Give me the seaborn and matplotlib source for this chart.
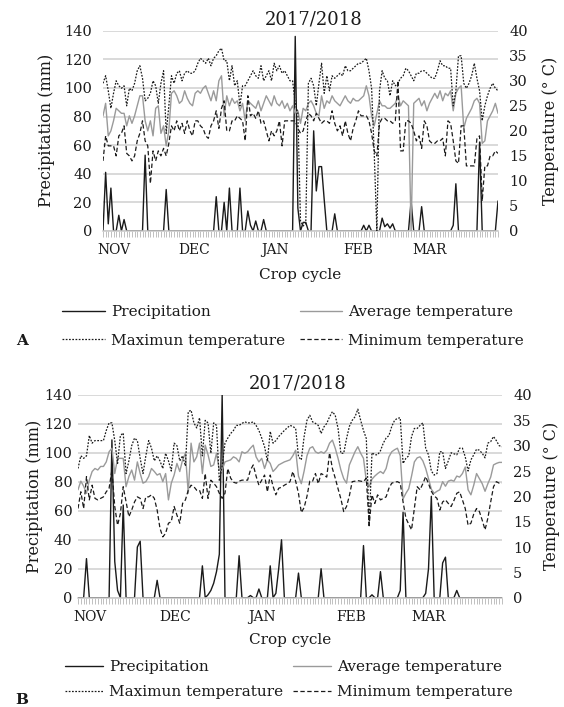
import numpy as np
import pandas as pd
import seaborn as sns
import matplotlib.pyplot as plt

# daily values, 1 Nov 2017 -> 31 Mar 2018 (151 days)
days = list(range(151))

# ---- panel A ----
precip_a = [0, 41, 5, 30, 0, 0, 11, 0, 8, 0,
            0, 0, 0, 0, 0, 0, 53, 0, 0, 0,
            0, 0, 0, 0, 29, 0, 0, 0, 0, 0,
            0, 0, 0, 0, 0, 0, 0, 0, 0, 0,
            0, 0, 0, 24, 0, 0, 20, 0, 30, 0,
            0, 0, 30, 0, 0, 14, 4, 0, 7, 0,
            0, 8, 0, 0, 0, 0, 0, 0, 0, 0,
            0, 0, 0, 136, 16, 0, 6, 6, 0, 0,
            70, 28, 45, 45, 22, 0, 0, 0, 12, 0,
            0, 0, 0, 0, 0, 0, 0, 0, 0, 4,
            0, 4, 0, 0, 0, 0, 9, 3, 5, 2,
            5, 0, 0, 0, 0, 0, 0, 21, 0, 0,
            0, 17, 0, 0, 0, 0, 0, 0, 0, 0,
            0, 0, 0, 4, 33, 0, 0, 0, 0, 0,
            0, 0, 0, 62, 0, 0, 0, 0, 0, 0,
            21]
avg_a = [23, 25.5, 19, 20, 22, 24.5, 24, 23.5, 23.5, 21,
         23, 21.5, 23, 25, 27, 27, 22, 20, 22, 19,
         24.5, 25, 19.5, 21, 17, 20, 27.5, 28, 27, 25.5,
         26, 28, 26.5, 25.5, 25, 27.5, 28, 27.5, 28.5, 29,
         27.5, 26, 28, 26, 30, 31, 23, 27, 25, 26.5,
         25.5, 26, 24, 25.5, 22, 26, 25.5, 25, 24.5, 26,
         24, 25.5, 27, 26, 25, 27, 25.5, 25, 26, 24.5,
         25.5, 24, 25, 23.5, 24, 21.5, 24.5, 24, 25.5, 26,
         25, 23.5, 23, 27, 24.5, 26, 25.5, 27, 26, 25.5,
         25, 26, 27, 26, 25.5, 26.5, 26, 26, 26.5, 27,
         29, 27, 23, 21, 23.5, 26, 25, 25, 24.5, 24.5,
         25, 25.5, 27, 25, 26, 25.5, 25, 0, 25.5, 26,
         26.5, 25, 26, 24, 25.5, 26.5, 27.5, 26.5, 28, 26,
         27.5, 27, 28, 24, 27.5, 28.5, 29, 20.5, 22.5, 23.5,
         24.5, 26, 26.5, 25.5, 17.5, 18, 22, 23, 24, 25.5,
         23.5]
max_a = [29.5, 31, 28, 24.5, 27.5, 30, 29, 28.5, 29, 25,
         28.5, 28, 29.5, 32, 33, 30.5, 26, 26.5, 27.5, 30,
         29, 25.5, 29.5, 32, 19.5, 25, 31, 29.5, 31.5, 32,
         30, 31.5, 32, 31.5, 31.5, 32, 33.5, 34.5, 34, 33.5,
         34.5, 33, 34.5, 35, 36, 36.5, 34, 34, 30, 33,
         29, 30, 25, 29, 29, 30, 31, 32, 31, 30.5,
         33, 30, 31, 32, 30, 33.5, 32, 33, 31.5, 32,
         31, 30, 30, 25.5, 23.5, 2, 1, 1.5, 29.5, 30.5,
         29, 25, 29.5, 33.5, 27.5, 31, 28, 31, 30.5, 31,
         31.5, 31, 33, 32, 32, 32.5, 33, 33.5, 33.5, 34,
         34.5, 32, 28.5, 15.5, 0, 28, 32, 30.5, 30, 27,
         30, 29, 29.5, 30.5, 31, 32.5, 32, 31, 30, 31.5,
         31.5, 32, 32, 31.5, 31, 30.5, 30.5, 32, 34, 33,
         33, 32.5, 32.5, 25, 28, 35, 35, 29.5, 28.5, 29.5,
         31, 33.5, 30.5, 28, 22, 25, 27, 28.5, 29.5, 28.5,
         28]
min_a = [14, 19, 17, 17, 17, 15, 19, 19.5, 21, 15.5,
         15, 14, 15, 18, 19.5, 22, 18, 17, 9.5, 16,
         14, 16, 15, 16.5, 15, 17.5, 21, 20, 22, 20,
         21.5, 19.5, 22, 20, 19, 22, 22, 21, 20.5, 19,
         18.5, 21, 22, 24, 20.5, 24.5, 26, 20, 20, 22,
         22, 23, 22.5, 22, 18, 27, 23, 23.5, 22.5, 24,
         21.5, 22, 20, 18, 20, 19, 20, 22, 17, 22,
         22, 22, 22, 22, 20.5, 19.5, 20, 22, 23.5, 23,
         22, 23.5, 22.5, 21.5, 22, 22, 21.5, 24, 21.5, 20,
         21, 19, 22, 19.5, 18, 20.5, 22, 24, 23, 23,
         23, 22, 19.5, 16, 15, 21.5, 22.5, 22.5, 22, 22,
         21.5, 22, 30, 16, 16, 22, 22, 21.5, 20, 18,
         19, 16.5, 22, 21, 18, 17.5, 17.5, 18, 18, 18.5,
         15, 22, 21.5, 18, 14, 13.5, 21, 21, 13, 13,
         13, 13, 18.5, 19, 6, 13, 13, 15, 15, 16,
         15.5]

# ---- panel B ----
precip_b = [0, 0, 0, 27, 0, 0, 0, 0, 0, 0,
            0, 0, 109, 25, 5, 0, 64, 0, 0, 0,
            0, 35, 39, 0, 0, 0, 0, 0, 12, 0,
            0, 0, 0, 0, 0, 0, 0, 0, 0, 0,
            0, 0, 0, 0, 22, 0, 2, 5, 10, 18,
            30, 140, 0, 0, 0, 0, 0, 29, 0, 0,
            0, 1.5, 0, 0, 6, 0, 0, 0, 22, 0,
            3, 20, 40, 0, 0, 0, 0, 0, 17, 0,
            0, 0, 0, 0, 0, 0, 20, 0, 0, 0,
            0, 0, 0, 0, 0, 0, 0, 0, 0, 0,
            0, 36, 0, 0, 2, 0, 0, 18, 0, 0,
            0, 0, 0, 0, 5, 59, 0, 0, 0, 0,
            0, 0, 0, 3, 20, 70, 0, 0, 0, 24,
            28, 0, 0, 0, 5, 0, 0, 0, 0, 0,
            0, 0, 0, 0, 0, 0, 0, 0, 0, 0,
            0]
avg_b = [21.3, 23, 22, 20.6, 23.2, 24.9, 25.5, 25.2, 25.9, 25.9,
         26.8, 28.8, 29.5, 24.5, 27.5, 27.5, 27.5, 21.9, 23.9, 25.2,
         23.2, 26.8, 24.5, 22.6, 22.9, 23.9, 25.5, 24.9, 24.2, 24.5,
         22.9, 24.5, 19.3, 22.6, 24.2, 26.5, 24.9, 27.2, 28.5, 20.6,
         30.5, 26.8, 27.8, 30.5, 24.5, 30.1, 28.2, 25.9, 26.2, 28.5,
         25.2, 25.2, 26.8, 27, 27.2, 27.8, 27.5, 26.8, 28.8, 28.5,
         28.8, 29.5, 30.1, 27.8, 26.8, 27.5, 25.5, 27.2, 26.5, 24.9,
         25.5, 26.2, 26.5, 26.8, 27, 27.2, 28, 29.1, 24, 22.5,
         25, 28, 29.5, 29.8, 28.8, 28.5, 28.8, 28.5, 29.1, 30.5,
         31.1, 29.5, 27.5, 25.2, 23.5, 22.6, 26.2, 27.5, 28.8, 29.8,
         28.5, 27.5, 23, 21.9, 23.4, 24, 24.5, 24.9, 24.5, 25.5,
         27.8, 28.8, 29.2, 29.5, 28, 19.5, 20.6, 21.5, 24, 26.8,
         27.6, 27.8, 27, 25.5, 23.5, 21.4, 20.6, 21, 21.3, 22.9,
         22, 23, 23.2, 23, 24, 23.8, 24.5, 25.8, 21.3, 20.3,
         22.2, 24.5, 23.5, 22.5, 21, 22.5, 23.8, 26.2, 26.5, 26.7,
         26.7]
max_b = [25.5, 28, 27.5, 28, 32, 30.5, 31, 31, 31, 31,
         33, 34.5, 34.5, 31, 26.5, 32, 32.5, 24.5, 27, 30,
         31.5, 31, 27.5, 24.5, 28, 31, 29.5, 27, 28, 27,
         25.5, 28.5, 27, 25, 30.5, 30, 27, 28, 26, 36.7,
         37, 34.5, 33.5, 35.5, 28, 35, 34.5, 28.5, 34.5, 34,
         23, 26, 30.5, 31.5, 32.4, 33, 34, 34, 34.4, 34.7,
         34.5, 34.5, 34.7, 34, 33, 31.5, 29.8, 27, 32.8, 30.5,
         31, 31.8, 32.4, 33, 33.5, 34, 33.8, 33.4, 27.8, 27.2,
         31.8, 35, 36, 34.7, 34.4, 34, 32.4, 33.7, 34.4, 35.7,
         36.7, 36, 33.4, 28.5, 28.5, 31.4, 33.8, 35, 35.7, 37.2,
         35, 33, 31.4, 14.2, 28.6, 28.2, 28.2, 29, 30.5, 31.5,
         32, 33.8, 35, 35.4, 35.5, 26.5, 27.5, 28, 31.8, 33.4,
         33.4, 34, 34.5, 29.5, 28.2, 25, 24.2, 24.5, 28.8, 28.8,
         25.5, 27, 28.6, 28.4, 28.2, 29.5, 29.5, 27.8, 25, 27.2,
         28.2, 29.3, 29.1, 28.5, 27.6, 30.5, 30.8, 31.8, 31, 30,
         29.8]
min_b = [17.6, 20.9, 17.6, 23.9, 19.3, 22.2, 19.6, 19.3, 19.6, 19.9,
         20.9, 21.6, 25.2, 18, 14.3, 16.6, 21.9, 18.9, 16, 17.3,
         18.9, 19.9, 19.6, 17.6, 19.9, 19.9, 20.3, 19.6, 17.3, 13.7,
         12, 12.7, 14.7, 15, 18, 16.3, 14.7, 18.6, 19.3, 21.2,
         22.2, 21.9, 21.2, 21.2, 19.6, 24.5, 19.6, 23.2, 22.6, 21.9,
         20.6, 19.6, 20.6, 25.5, 23.6, 22.8, 22.6, 23, 23.2, 23.2,
         23.2, 25.2, 26.2, 24, 22.2, 23.2, 24.2, 20.9, 24.2, 22,
         20.3, 21.6, 21.8, 22.2, 22.5, 22.9, 24.9, 23, 20.6, 16.8,
         17.8, 20, 23, 23, 24.5, 22.5, 24.5, 24.2, 23.8, 28.6,
         25.5, 23.6, 21.5, 19.5, 17, 18, 20.1, 22.9, 23, 23.1,
         23, 22.9, 23.6, 14.3, 20.3, 18.6, 20.3, 19.3, 19.6, 19.9,
         21.6, 22.6, 22.8, 22.9, 22.6, 18.9, 15.7, 14.5, 13.4, 17.6,
         21.9, 21.3, 22.5, 23.9, 22.5, 21, 20.1, 19.6, 17.3, 18.9,
         19.3, 18.6, 18, 19.2, 20.6, 20.9, 19.3, 17.6, 14.3, 14.7,
         16.5, 17.6, 17, 15.3, 13.4, 15.7, 18.9, 21.9, 22.9, 22.6,
         22.6]

month_labels = ["NOV", "DEC", "JAN", "FEB", "MAR"]
month_pos = [4.2, 34.5, 65.2, 96.8, 124.1]
season = "2017/2018"

sns.set_theme(style="white")
plt.rcParams['font.family'] = ['DejaVu Serif']
plt.rcParams['text.color'] = '#1a1a1a'
plt.rcParams['axes.labelcolor'] = '#1a1a1a'
plt.rcParams['xtick.color'] = '#1a1a1a'
plt.rcParams['ytick.color'] = '#1a1a1a'

fig = plt.figure(figsize=(5.64, 7.07), dpi=100)


def draw_panel(rect, df, tag, tag_xy, ylab_x, ylab2_x, ypad, xlab_y,
               title_xy, legend_xy, handle_len, colspace, rowspace):
    ax = fig.add_axes(rect)
    ax2 = ax.twinx()

    sns.lineplot(data=df, x="day", y="precip", ax=ax, color="#1a1a1a",
                 lw=1.0, legend=False)
    sns.lineplot(data=df, x="day", y="avg", ax=ax2, color="#9a9a9a",
                 lw=1.0, legend=False)
    sns.lineplot(data=df, x="day", y="tmax", ax=ax2, color="#1a1a1a",
                 lw=0.9, linestyle=(0, (1.4, 1.2)), legend=False)
    sns.lineplot(data=df, x="day", y="tmin", ax=ax2, color="#1a1a1a",
                 lw=0.9, linestyle=(0, (3.5, 2)), legend=False)

    h_p = ax.lines[0]
    h_avg, h_max, h_min = ax2.lines[0], ax2.lines[1], ax2.lines[2]

    ax.set_xlim(0, 150)
    ax.set_ylim(0, 140)
    ax2.set_ylim(0, 40)
    ax.set_yticks(range(0, 141, 20))
    ax2.set_yticks(range(0, 41, 5))
    ax.set_xticks(month_pos)
    ax.set_xticklabels(month_labels)
    ax.set_xticks(df["day"], minor=True)
    ax.tick_params(axis='x', which='major', length=0, pad=9, labelsize=10)
    ax.tick_params(axis='x', which='minor', bottom=True, length=4,
                   width=0.6, color='#b5b5b5')
    ax.tick_params(axis='y', length=0, pad=ypad, labelsize=10.5)
    ax2.tick_params(axis='y', length=0, pad=8, labelsize=10.5)

    ax.grid(axis='y', color='#d0d0d0', lw=1.1)
    ax.grid(axis='x', visible=False)
    ax2.grid(False)
    ax.set_axisbelow(True)
    for s in ax.spines.values():
        s.set_visible(False)
    for s in ax2.spines.values():
        s.set_visible(False)
    ax.spines['bottom'].set_visible(True)
    ax.spines['bottom'].set_color('#c8c8c8')
    ax.spines['bottom'].set_linewidth(1.1)

    ax.set_xlabel("Crop cycle", fontsize=11)
    ax.xaxis.set_label_coords(0.5, xlab_y)
    ax.xaxis.label.set_va('center')
    ax.set_ylabel("Precipitation (mm)", fontsize=11.5)
    ax.yaxis.set_label_coords(ylab_x, 0.5)
    ax.yaxis.label.set_va('center')
    ax2.set_ylabel("Temperature (° C)", fontsize=11.5, rotation=90)
    ax2.yaxis.set_label_coords(ylab2_x, 0.5)
    ax2.yaxis.label.set_va('center')

    fig.text(title_xy[0], title_xy[1], season, ha='center', va='center',
             fontsize=13)

    fig.legend([h_p, h_max, h_avg, h_min],
               ["Precipitation", "Maximun temperature",
                "Average temperature", "Minimum temperature"],
               loc='upper left', bbox_to_anchor=legend_xy, ncol=2,
               frameon=False, fontsize=11, handlelength=handle_len,
               handletextpad=0.4, columnspacing=colspace,
               labelspacing=rowspace, borderpad=0, borderaxespad=0)

    fig.text(tag_xy[0], tag_xy[1], tag, ha='center', va='center',
             fontsize=11, fontweight='bold')
    return ax, ax2


df_a = pd.DataFrame({"day": days, "precip": precip_a, "avg": avg_a,
                     "tmax": max_a, "tmin": min_a})
df_b = pd.DataFrame({"day": days, "precip": precip_b, "avg": avg_b,
                     "tmax": max_b, "tmin": min_b})

draw_panel([103 / 564, 476 / 707, 395 / 564, 200.3 / 707], df_a, "A",
           (22 / 564, 1 - 341 / 707), -0.142, 1.134, 8, -0.22,
           (314 / 564, 1 - 19 / 707), (62 / 564, 1 - 305 / 707), 2.8,
           0.95, 0.95)
draw_panel([78 / 564, 109.3 / 707, 424 / 564, 202.7 / 707], df_b, "B",
           (22 / 564, 1 - 700 / 707), -0.102, 1.1156, 4, -0.209,
           (298 / 564, 1 - 383 / 707), (65 / 564, 1 - 660 / 707), 2.5,
           0.6, 0.75)

fig.savefig("out.png", dpi=100)
